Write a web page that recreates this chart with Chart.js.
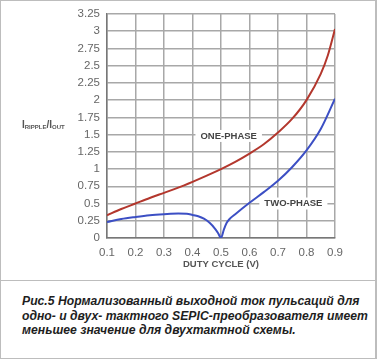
<!DOCTYPE html>
<html>
<head>
<meta charset="utf-8">
<script src="https://cdn.jsdelivr.net/npm/chart.js@4/dist/chart.umd.min.js"></script>
<style>
  html, body { margin: 0; padding: 0; background: #fff; }
  #frame { position: absolute; left: 0; top: 0; width: 377px; height: 359px; box-sizing: border-box;
           border: 1px solid #bdbdbd; border-right-width: 2px; background: #fff; }
  #sep { position: absolute; left: 0; top: 280px; width: 377px; height: 1px; background: #bdbdbd; }
  #chartBox { position: absolute; left: 0; top: 0; width: 377px; height: 280px; }
  #ylab { position: absolute; left: 22px; top: 119px; font-family: "Liberation Sans", Arial, sans-serif;
          font-weight: bold; font-size: 10px; color: #555; white-space: nowrap; }
  #ylab sub { font-size: 6px; vertical-align: -1px; }
  #caption { position: absolute; left: 22px; top: 294px; font-family: "Liberation Sans", Arial, sans-serif;
             font-style: italic; font-weight: bold; font-size: 12.2px; line-height: 14.6px; color: #1e1e1e;
             white-space: nowrap; }
</style>
</head>
<body>
<div id="frame"></div>
<div id="sep"></div>
<div id="chartBox"><canvas id="c" width="377" height="280"></canvas></div>
<div id="ylab">I<sub>RIPPLE</sub>/I<sub>OUT</sub></div>
<div id="caption">Рис.5 Нормализованный выходной ток пульсаций для<br>одно- и двух- тактного SEPIC-преобразователя имеет<br>меньшее значение для двухтактной схемы.</div>
<script>
// ---- data ----
const onePhaseX = [0.10, 0.15, 0.20, 0.25, 0.30, 0.35, 0.40, 0.45, 0.50, 0.55, 0.60, 0.65, 0.70, 0.75, 0.80, 0.85, 0.875, 0.90];
const onePhaseY = [0.33, 0.42, 0.50, 0.58, 0.655, 0.73, 0.815, 0.905, 1.00, 1.105, 1.225, 1.36, 1.53, 1.73, 2.00, 2.38, 2.65, 3.03];

const twoPhaseX = [0.10, 0.15, 0.20, 0.25, 0.30, 0.35, 0.38, 0.40, 0.42, 0.44, 0.46, 0.48, 0.49, 0.50, 0.51, 0.52, 0.53, 0.55, 0.60, 0.65, 0.70, 0.75, 0.80, 0.85, 0.90];
const twoPhaseY = [0.23, 0.275, 0.305, 0.33, 0.345, 0.355, 0.352, 0.335, 0.315, 0.28, 0.22, 0.13, 0.07, 0.00, 0.12, 0.22, 0.275, 0.345, 0.51, 0.665, 0.83, 1.03, 1.27, 1.58, 2.02];

const xTickLabels = ["0.1", "0.2", "0.3", "0.4", "0.5", "0.6", "0.7", "0.8", "0.9"];
const yTickLabels = ["0", "0.25", "0.5", "0.75", "1", "1.25", "1.5", "1.75", "2", "2.25", "2.5", "2.75", "3", "3.25"];

const seriesLabels = [
  { text: "ONE-PHASE", x: 0.527, y: 1.48 },
  { text: "TWO-PHASE", x: 0.754, y: 0.50 }
];

const toPoints = (xs, ys) => xs.map((x, i) => ({ x: x, y: ys[i] }));

const labelPlugin = {
  id: 'seriesLabels',
  afterDatasetsDraw(chart) {
    const ctx = chart.ctx;
    const xs = chart.scales.x, ys = chart.scales.y;
    ctx.save();
    ctx.font = 'bold 9.5px "Liberation Sans", Arial, sans-serif';
    ctx.textAlign = 'center';
    ctx.textBaseline = 'middle';
    seriesLabels.forEach(l => {
      const px = xs.getPixelForValue(l.x), py = ys.getPixelForValue(l.y);
      const w = ctx.measureText(l.text).width + 10;
      ctx.fillStyle = '#fff';
      ctx.fillRect(px - w / 2, py - 6, w, 12);
      ctx.fillStyle = '#444';
      ctx.fillText(l.text, px, py);
    });
    ctx.restore();
  }
};

const tickFont = { family: '"Liberation Sans", Arial, sans-serif', size: 11.5 };

new Chart(document.getElementById('c'), {
  type: 'line',
  data: {
    datasets: [
      { label: 'ONE-PHASE', data: toPoints(onePhaseX, onePhaseY), borderColor: '#b3372d', borderWidth: 2,
        pointRadius: 0, cubicInterpolationMode: 'monotone', fill: false },
      { label: 'TWO-PHASE', data: toPoints(twoPhaseX, twoPhaseY), borderColor: '#3c4fc4', borderWidth: 2,
        pointRadius: 0, cubicInterpolationMode: 'monotone', fill: false }
    ]
  },
  options: {
    responsive: false,
    animation: false,
    devicePixelRatio: 1,
    layout: { padding: { left: 0, right: 42, top: 11, bottom: 0 } },
    plugins: { legend: { display: false }, tooltip: { enabled: false } },
    scales: {
      x: {
        type: 'linear', min: 0.1, max: 0.9,
        afterFit: s => { s.height = 42; },
        afterBuildTicks: s => { s.ticks = xTickLabels.map(t => ({ value: parseFloat(t) })); },
        ticks: { callback: (v, i) => xTickLabels[i], color: '#666', font: tickFont, padding: 8, maxRotation: 0, autoSkip: false },
        grid: { color: '#a8a8a8', lineWidth: 1.5, drawTicks: false },
        border: { color: '#777', width: 1.5 },
        title: { display: true, text: 'DUTY CYCLE (V)', color: '#555',
                 font: { family: '"Liberation Sans", Arial, sans-serif', size: 9.5, weight: 'bold' },
                 padding: { top: 0, bottom: 10 } }
      },
      y: {
        type: 'linear', min: 0, max: 3.25,
        afterFit: s => { s.width = 107; },
        afterBuildTicks: s => { s.ticks = yTickLabels.map(t => ({ value: parseFloat(t) })); },
        ticks: { callback: (v, i) => yTickLabels[i], color: '#666', font: tickFont, padding: 7, autoSkip: false },
        grid: { color: '#a8a8a8', lineWidth: 1.5, drawTicks: false },
        border: { color: '#777', width: 1.5 }
      }
    }
  },
  plugins: [labelPlugin]
});
</script>
</body>
</html>
